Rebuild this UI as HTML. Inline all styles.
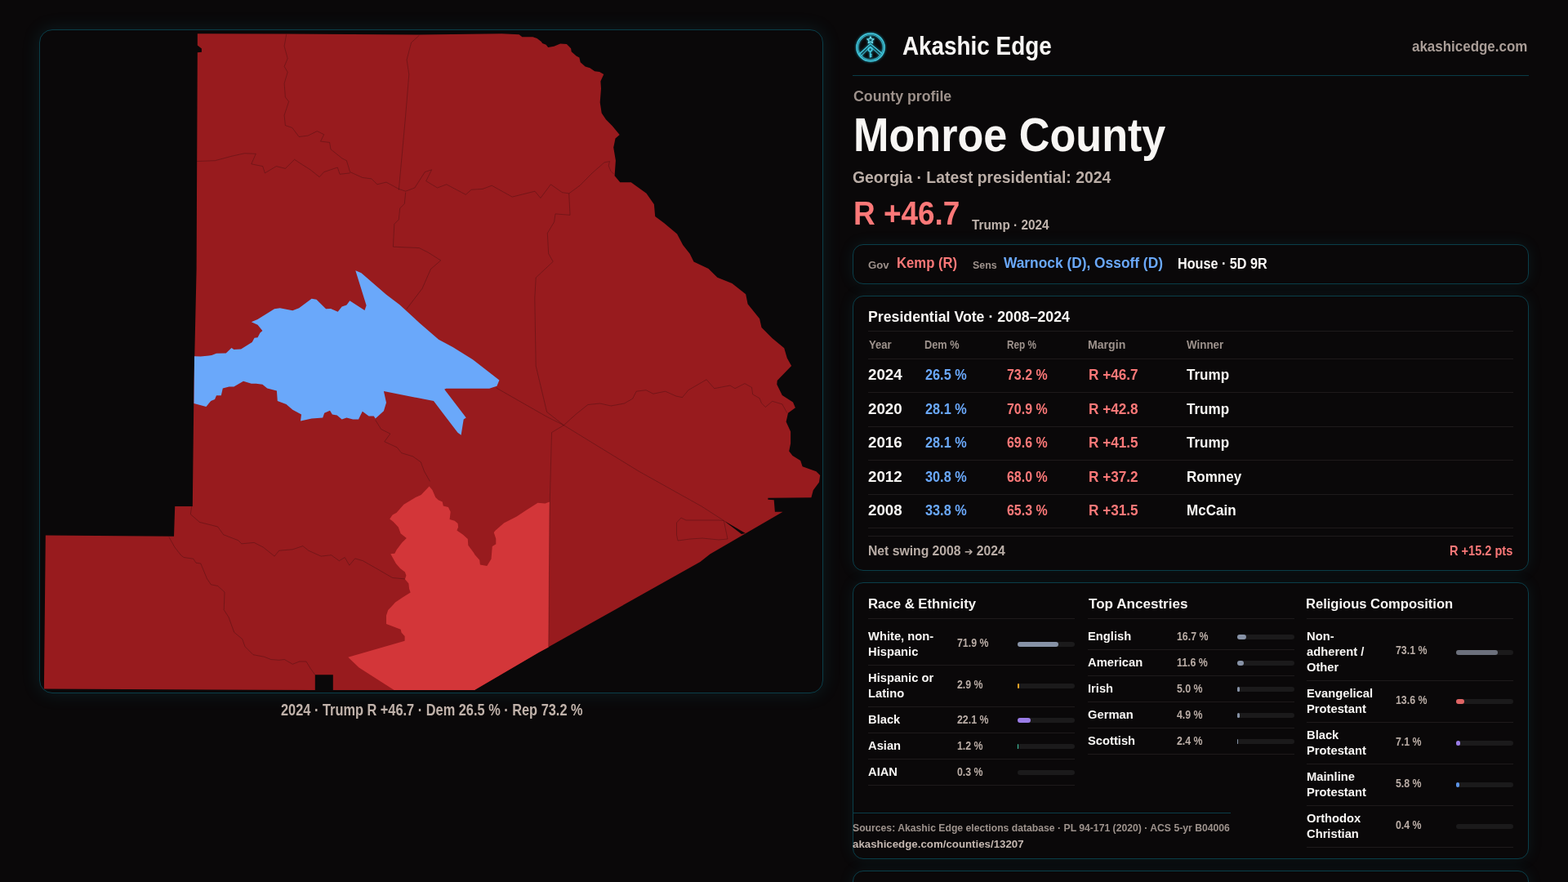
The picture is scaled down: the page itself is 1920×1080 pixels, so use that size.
<!DOCTYPE html>
<html><head><meta charset="utf-8"><title>Monroe County — Akashic Edge</title>
<style>
*{box-sizing:border-box;margin:0;padding:0}
html,body{width:1920px;height:1080px;overflow:hidden;background:#0a0809}
body{position:relative;font-family:"Liberation Sans",Arial,sans-serif;color:#f8f6f4}
.box{position:absolute;border:1px solid #0a3e49;background:#0a0809}
.mapcard{left:48px;top:36px;width:960px;height:813px;border-radius:16px;box-shadow:0 0 22px rgba(30,140,160,0.16)}
.card{left:1044px;width:828px;border-radius:13px;box-shadow:0 0 18px rgba(30,140,160,0.12)}
svg.map{position:absolute;left:0;top:0}
.logo{position:absolute;left:1046px;top:38px}
.hline{position:absolute;left:1044px;top:92px;width:828px;height:1px;background:#093c47}
.t{position:absolute;white-space:nowrap;transform-origin:0 0;line-height:normal}
.dl{line-height:19.0px;color:#f8f6f4}
.hr{position:absolute;height:1px;background:#1e1a1b}
.bar{position:absolute;width:70px;height:6px;border-radius:3px;background:#1b1a1b}
.bar i{position:absolute;left:0;top:0;height:6px;border-radius:3px}
.srcline{position:absolute;left:1044px;top:995px;width:463px;height:1px;background:#0a3e49}
</style></head><body>
<div class="box mapcard"></div>
<svg class="map" width="1010" height="850" viewBox="0 0 1010 850">
<polygon points="241.8,41.2 350.8,41.6 513.0,42.4 614.3,41.3 635.6,42.2 639.4,45.3 652.4,45.3 657.6,47.0 662.8,50.9 664.1,52.9 668.6,54.8 671.2,58.0 678.3,56.7 686.1,53.5 693.9,54.1 699.1,59.3 699.7,63.2 705.6,68.4 709.4,70.4 710.7,76.2 716.6,81.4 722.4,83.3 728.2,87.2 734.1,87.9 739.3,91.1 735.4,99.5 736.0,108.6 734.7,125.4 736.7,138.4 741.9,146.2 749.6,154.0 758.7,165.0 753.5,169.5 752.2,176.0 751.2,180.4 753.9,196.5 752.6,215.3 759.3,223.3 772.7,223.3 791.5,236.8 800.9,250.2 802.2,265.0 813.0,273.0 829.1,286.4 836.2,300.0 844.7,310.8 849.5,320.5 867.5,328.9 878.4,339.7 896.4,346.9 913.2,360.2 915.6,372.2 930.1,390.2 932.5,401.0 945.7,414.3 960.2,426.3 963.8,438.4 969.1,448.0 951.7,466.0 951.3,470.8 957.8,484.0 971.0,492.5 973.9,499.2 965.0,505.7 962.6,516.6 968.1,528.6 968.1,543.0 966.2,552.6 970.5,558.0 980.2,564.0 982.6,571.3 999.4,577.3 1004.2,582.0 1003.0,590.5 995.8,600.2 993.4,609.3 940.4,609.8 940.4,611.7 947.7,612.2 948.9,626.7 958.5,626.7 869.4,678.4 857.4,688.0 660.0,798.8 581.0,845.0 407.8,845.0 407.8,826.3 385.8,826.3 385.8,845.0 53.9,843.5 55.8,655.5 213.0,656.7 214.2,620.0 235.8,620.0 237.5,470.0 240.6,330.0 241.8,64.2 246.9,63.7 246.9,59.6 241.8,55.5" fill="#981b1e"/>
<polygon points="525.6,595.6 529.4,600.0 533.3,608.9 536.7,612.2 541.7,614.4 542.8,619.4 548.9,621.1 551.7,626.7 550.6,636.1 556.7,637.8 560.6,641.1 561.1,645.6 559.4,649.4 566.7,654.4 572.8,660.0 573.3,667.8 576.7,672.2 580.0,676.7 581.4,679.3 587.2,685.7 587.9,691.6 596.3,692.9 601.5,684.5 602.8,668.9 607.3,666.3 607.3,659.8 604.7,652.0 606.7,649.4 617.0,640.4 632.6,632.6 644.3,624.8 658.5,615.7 667.6,616.4 672.8,614.4 673.0,615.0 671.8,792.5 660.0,798.8 581.0,845.0 482.6,845.0 439.6,817.4 426.3,804.8 495.6,784.8 495.6,778.9 491.5,774.4 490.7,770.7 473.0,764.1 473.0,753.7 475.2,747.0 479.6,742.6 484.1,737.4 493.0,731.5 502.6,725.6 501.1,721.1 500.4,714.4 495.9,709.3 497.4,704.8 495.9,700.4 490.0,695.9 484.8,690.0 478.3,678.3 483.3,677.8 485.6,673.3 492.2,664.4 497.8,658.9 490.6,653.3 487.8,645.6 481.7,638.9 477.2,635.6 480.6,630.6 485.6,627.8 494.4,617.8 508.9,608.9 515.6,606.1" fill="#d33639"/>
<polygon points="238.0,436.3 245.6,436.6 259.2,435.1 265.0,432.8 276.7,432.4 283.5,426.0 286.4,427.9 295.1,427.5 303.9,422.1 308.7,419.1 311.6,413.7 315.5,413.3 318.5,407.5 321.4,405.0 315.5,397.8 307.8,394.3 315.5,391.0 336.0,378.3 342.8,377.3 358.3,380.3 366.1,377.3 381.6,365.7 387.5,366.7 399.1,378.3 405.0,377.9 413.7,381.8 418.6,375.4 424.4,373.5 428.3,368.2 446.5,380.1 448.6,374.0 435.3,331.2 442.4,334.3 473.0,360.7 489.2,373.0 513.7,395.4 537.1,415.7 554.4,424.9 578.9,440.2 611.4,465.6 608.4,472.7 599.2,475.8 546.3,475.8 544.2,476.8 570.7,511.4 567.7,513.5 564.6,532.8 560.5,529.8 531.0,491.1 469.9,478.9 473.0,493.1 469.9,503.3 459.7,512.5 457.7,509.4 451.6,509.5 443.8,503.7 439.0,513.4 432.2,513.4 424.4,511.5 418.6,513.4 412.7,508.6 406.9,507.6 404.0,502.7 397.2,505.7 395.2,511.5 381.6,512.5 368.0,515.4 369.0,507.6 358.3,501.8 350.5,495.0 339.8,491.1 338.9,478.4 327.2,475.5 321.4,470.7 313.6,469.7 307.8,469.7 298.0,466.8 286.4,473.6 280.5,473.6 272.8,475.5 270.8,484.3 265.0,484.3 263.0,489.1 258.2,491.1 252.4,497.9 237.5,494.0" fill="#6aa8fa"/>
<g fill="none" stroke="#3a0d0f" stroke-opacity="0.5" stroke-width="0.75">
<polyline points="350.8,41.6 348.1,56.4 352.2,71.7 348.1,81.4 352.2,88.3 348.1,102.2 349.4,118.9 353.6,124.4 348.1,141.1 349.4,153.6 357.8,156.4 366.1,167.5 377.2,166.1 388.3,160.6 396.7,164.7 392.5,173.1 403.6,174.4 405.0,182.8 418.9,193.9 424.4,196.7 428.6,210.6 443.9,217.5 455.0,218.9 461.9,225.8 473.0,223.1 488.3,231.4 496.7,234.2"/>
<polyline points="241.0,197.5 263.3,196.7 284.2,191.1 299.4,187.8 313.3,188.3 307.8,200.8 321.7,203.6 324.4,211.9 338.3,203.6 349.4,206.4 360.6,195.3 368.9,200.8 380.0,207.8 391.1,216.7 396.7,210.6 413.3,205.0 416.1,213.3 428.6,211.9"/>
<polyline points="513.3,43.3 503.6,52.2 498.1,73.1 500.8,91.1 496.7,141.1 488.3,232.8"/>
<polyline points="496.7,234.2 507.8,230.0 520.3,210.6 528.6,207.8 521.7,221.7 535.6,230.0 546.7,225.8 570.3,238.3 577.2,232.2 591.1,231.4 602.2,227.2 627.2,241.1 655.0,234.2 661.9,242.5 674.4,225.8 688.3,235.6 696.7,236.9 710.0,227.2 725.0,212.0 740.0,198.9 746.5,197.6 745.2,202.8 747.8,209.3 751.7,213.2"/>
<polyline points="496.7,235.6 495.3,249.4 489.7,255.0 488.3,268.9 482.8,274.4 481.4,302.2 513.3,303.6 524.4,309.2 539.7,318.9 527.4,329.6 517.0,353.3 497.8,378.5"/>
<polyline points="696.7,236.9 698.0,263.3 680.0,261.9 678.6,271.7 670.3,285.6 671.7,310.6 677.2,320.3 656.2,340.0 654.8,365.2 656.2,448.1 669.6,504.4 690.3,520.7"/>
<polyline points="607.4,474.8 669.6,510.3 690.3,520.7 782.1,577.0 859.1,620.0 886.3,637.5"/>
<polyline points="690.3,520.7 705.1,507.3 719.9,495.5 734.7,494.0 748.1,497.0 764.4,494.0 774.7,488.1 779.2,479.2 791.0,477.7 799.9,482.2 814.7,479.2 828.0,485.1 835.5,486.6 842.9,477.7 865.1,464.8 874.7,475.7 894.0,472.0 900.0,475.7 912.0,469.6 920.5,474.4 921.7,482.9 930.1,487.7 932.5,493.7 937.3,498.5 945.7,491.3 957.8,494.9 963.8,505.7"/>
<polyline points="690.3,520.7 675.5,529.6 673.1,620.0 671.8,792.5"/>
<polyline points="234.7,620.0 233.3,629.7 244.4,639.4 266.7,645.0 273.6,654.7 291.7,661.7 295.8,665.8 311.1,664.4 322.2,670.0 336.1,681.1 341.7,674.2 358.3,672.8 370.8,668.6 377.8,674.2 393.1,681.1 405.6,679.7 415.3,686.7 422.2,682.5 427.8,692.2 434.7,683.9 444.4,686.7 463.9,697.8 480.6,707.5 495.8,708.9"/>
<polyline points="206.9,657.5 213.9,670.0 221.7,680.0 225.0,682.5 236.7,684.2 240.0,689.2 245.8,690.0 253.3,708.3 258.3,715.8 266.7,717.5 275.0,725.0 274.2,746.7 280.0,755.8 286.7,774.2 296.7,782.5 300.0,791.7 310.0,801.7 323.3,804.2 331.7,807.5 341.7,808.3 348.3,807.5 358.3,813.3 366.7,810.0 375.0,810.0 380.0,818.3 385.8,826.3"/>
<polyline points="459.7,514.4 466.7,525.6 477.8,531.1 470.8,540.8 486.1,547.8 491.7,554.7 505.6,558.9 515.3,565.8 519.4,576.9 526.4,589.4"/>
<polyline points="828.5,640.0 834.0,634.0 840.0,637.0 880.0,637.0 886.3,637.5 891.0,660.0 880.0,661.0 860.0,659.0 845.0,660.0 830.0,662.0 828.5,655.0 828.5,640.0"/>
</g>
<polygon points="886.3,637.5 912.8,653.1 908,654" fill="#0a0809"/>
</svg>
<svg class="logo" width="40" height="40" viewBox="0 0 40 40">
<g fill="none" stroke="#45cbe0" stroke-width="1.3" style="filter:drop-shadow(0 0 1.5px #1fb4d0)">
<circle cx="20" cy="20" r="17" stroke-width="1.5"/>
<circle cx="20" cy="20" r="15.2" stroke-opacity="0.75" stroke-width="1.1"/>
<path d="M6 28.5 L19.8 15.5 L34 27.5"/>
<path d="M8.5 30.5 L19.8 19 L31.5 29.5" stroke-opacity="0.75" stroke-width="1.1"/>
<circle cx="19.6" cy="22.6" r="2.3" stroke-width="1.5"/>
<path d="M19.6 25 V32.6 M19.6 28.8 H21.6 M19.6 31 H21.6" stroke-width="1.5"/>
<path stroke="#6fdcec" stroke-width="1.2" stroke-linejoin="round" d="M19.9 6.8 L21.1 9.7 L24.1 9.9 L21.8 11.8 L22.6 14.7 L19.9 13.1 L17.2 14.7 L18 11.8 L15.7 9.9 L18.7 9.7Z"/>
</g>
</svg>
<div class="hline"></div>
<div class="box card" style="top:299px;height:49px"></div>
<div class="box card" style="top:362px;height:337px"></div>
<div class="box card" style="top:713px;height:339px"></div>
<div class="box card" style="top:1066px;height:40px"></div>
<div class="hr" style="left:1063px;top:405.0px;width:790px"></div><div class="hr" style="left:1063px;top:439.0px;width:790px"></div><div class="hr" style="left:1063px;top:480.4px;width:790px"></div><div class="hr" style="left:1063px;top:521.8px;width:790px"></div><div class="hr" style="left:1063px;top:563.2px;width:790px"></div><div class="hr" style="left:1063px;top:604.6px;width:790px"></div><div class="hr" style="left:1063px;top:646.0px;width:790px"></div><div class="hr" style="left:1063px;top:656.0px;width:790px"></div>
<div class="hr" style="left:1063px;top:757px;width:253px"></div><div class="hr" style="left:1063px;top:814.0px;width:253px"></div><div class="hr" style="left:1063px;top:865.0px;width:253px"></div><div class="hr" style="left:1063px;top:897.0px;width:253px"></div><div class="hr" style="left:1063px;top:929.0px;width:253px"></div><div class="hr" style="left:1063px;top:961.0px;width:253px"></div><div class="hr" style="left:1331.5px;top:757px;width:253px"></div><div class="hr" style="left:1331.5px;top:795.0px;width:253px"></div><div class="hr" style="left:1331.5px;top:827.0px;width:253px"></div><div class="hr" style="left:1331.5px;top:859.0px;width:253px"></div><div class="hr" style="left:1331.5px;top:891.0px;width:253px"></div><div class="hr" style="left:1331.5px;top:923.0px;width:253px"></div><div class="hr" style="left:1600px;top:757px;width:253px"></div><div class="hr" style="left:1600px;top:833.0px;width:253px"></div><div class="hr" style="left:1600px;top:884.0px;width:253px"></div><div class="hr" style="left:1600px;top:935.0px;width:253px"></div><div class="hr" style="left:1600px;top:986.0px;width:253px"></div><div class="hr" style="left:1600px;top:1037.0px;width:253px"></div>
<div class="bar" style="left:1246px;top:786.0px"><i style="width:50.3px;background:#8792a6"></i></div><div class="bar" style="left:1246px;top:837.0px"><i style="width:2.0px;background:#f0a424"></i></div><div class="bar" style="left:1246px;top:878.5px"><i style="width:15.5px;background:#9a7ce6"></i></div><div class="bar" style="left:1246px;top:910.5px"><i style="width:1.0px;background:#3ec6a4"></i></div><div class="bar" style="left:1246px;top:942.5px"><i style="width:0.0px;background:#8792a6"></i></div><div class="bar" style="left:1514.5px;top:776.5px"><i style="width:11.7px;background:#8792a6"></i></div><div class="bar" style="left:1514.5px;top:808.5px"><i style="width:8.1px;background:#8792a6"></i></div><div class="bar" style="left:1514.5px;top:840.5px"><i style="width:3.5px;background:#8792a6"></i></div><div class="bar" style="left:1514.5px;top:872.5px"><i style="width:3.4px;background:#8792a6"></i></div><div class="bar" style="left:1514.5px;top:904.5px"><i style="width:1.7px;background:#8792a6"></i></div><div class="bar" style="left:1783px;top:795.5px"><i style="width:51.2px;background:#6c707c"></i></div><div class="bar" style="left:1783px;top:856.0px"><i style="width:9.5px;background:#e06464"></i></div><div class="bar" style="left:1783px;top:907.0px"><i style="width:5.0px;background:#9a7ce6"></i></div><div class="bar" style="left:1783px;top:958.0px"><i style="width:4.1px;background:#5b93e6"></i></div><div class="bar" style="left:1783px;top:1009.0px"><i style="width:0.0px;background:#6c707c"></i></div>
<div class="srcline"></div>
<div class="t" style="left:1104.62px;top:39.22px;font-size:31.4px;font-weight:700;color:#f8f6f4;transform:scaleX(0.8873);">Akashic Edge</div>
<div class="t" style="left:1729.05px;top:46.32px;font-size:18.4px;font-weight:700;color:#a99d97;transform:scaleX(0.9217);">akashicedge.com</div>
<div class="t" style="left:1044.56px;top:107.28px;font-size:18.6px;font-weight:700;color:#9d918b;transform:scaleX(0.9539);">County profile</div>
<div class="t" style="left:1044.71px;top:130.66px;font-size:58.1px;font-weight:700;color:#f8f6f4;transform:scaleX(0.8976);">Monroe County</div>
<div class="t" style="left:1044.26px;top:205.44px;font-size:20.6px;font-weight:700;color:#bbaea7;transform:scaleX(0.9399);">Georgia · Latest presidential: 2024</div>
<div class="t" style="left:1045.02px;top:237.64px;font-size:41.4px;font-weight:700;color:#fc7878;transform:scaleX(0.8925);">R +46.7</div>
<div class="t" style="left:1189.60px;top:265.74px;font-size:16.4px;font-weight:700;color:#c0b4ad;transform:scaleX(0.9353);">Trump · 2024</div>
<div class="t" style="left:343.50px;top:859.15px;font-size:19.3px;font-weight:700;color:#c0b2aa;transform:scaleX(0.8484);">2024 · Trump R +46.7 · Dem 26.5 % · Rep 73.2 %</div>
<div class="t" style="left:1063.00px;top:317.26px;font-size:13.7px;font-weight:700;color:#9d918b;transform:scaleX(0.9630);">Gov</div>
<div class="t" style="left:1098.10px;top:311.30px;font-size:18.5px;font-weight:700;color:#fc7878;transform:scaleX(0.9012);">Kemp (R)</div>
<div class="t" style="left:1191.00px;top:317.26px;font-size:13.7px;font-weight:700;color:#9d918b;transform:scaleX(0.9062);">Sens</div>
<div class="t" style="left:1229.32px;top:311.30px;font-size:18.5px;font-weight:700;color:#6aa8fa;transform:scaleX(0.9374);">Warnock (D), Ossoff (D)</div>
<div class="t" style="left:1441.67px;top:312.30px;font-size:18.5px;font-weight:700;color:#f8f6f4;transform:scaleX(0.8746);">House · 5D 9R</div>
<div class="t" style="left:1062.54px;top:377.34px;font-size:18.3px;font-weight:700;color:#f8f6f4;transform:scaleX(0.9693);">Presidential Vote · 2008–2024</div>
<div class="t" style="left:1063.51px;top:413.68px;font-size:14.1px;font-weight:700;color:#9d928c;transform:scaleX(0.9290);">Year</div>
<div class="t" style="left:1132.08px;top:413.68px;font-size:14.1px;font-weight:700;color:#9d928c;transform:scaleX(0.9048);">Dem %</div>
<div class="t" style="left:1233.10px;top:413.68px;font-size:14.1px;font-weight:700;color:#9d928c;transform:scaleX(0.8342);">Rep %</div>
<div class="t" style="left:1332.43px;top:413.68px;font-size:14.1px;font-weight:700;color:#9d928c;transform:scaleX(1.0015);">Margin</div>
<div class="t" style="left:1453.49px;top:413.68px;font-size:14.1px;font-weight:700;color:#9d928c;transform:scaleX(0.9504);">Winner</div>
<div class="t" style="left:1062.55px;top:665.24px;font-size:16.3px;font-weight:700;color:#b9ada6;transform:scaleX(0.9654);">Net swing 2008 <span style="font-family:'DejaVu Sans',sans-serif;font-size:0.8em">➔</span> 2024</div>
<div class="t" style="left:1775.09px;top:665.22px;font-size:16.4px;font-weight:700;color:#fc7878;transform:scaleX(0.8879);">R +15.2 pts</div>
<div class="t" style="left:1062.52px;top:728.56px;font-size:17.2px;font-weight:700;color:#f8f6f4;transform:scaleX(0.9734);">Race &amp; Ethnicity</div>
<div class="t" style="left:1333.01px;top:728.56px;font-size:17.2px;font-weight:700;color:#f8f6f4;transform:scaleX(0.9936);">Top Ancestries</div>
<div class="t" style="left:1599.02px;top:728.56px;font-size:17.2px;font-weight:700;color:#f8f6f4;transform:scaleX(0.9625);">Religious Composition</div>
<div class="t" style="left:1044.00px;top:1006.98px;font-size:12.6px;font-weight:700;color:#9d928c;transform:scaleX(0.9685);">Sources: Akashic Edge elections database · PL 94-171 (2020) · ACS 5-yr B04006</div>
<div class="t" style="left:1044.00px;top:1026.28px;font-size:13.6px;font-weight:700;color:#c4b7b0;transform:scaleX(0.9768);">akashicedge.com/counties/13207</div>
<div class="t" style="left:1063.48px;top:449.40px;font-size:18.0px;font-weight:700;color:#f8f6f4;transform:scaleX(1.0406);">2024</div>
<div class="t" style="left:1063.48px;top:490.90px;font-size:18.0px;font-weight:700;color:#f8f6f4;transform:scaleX(1.0406);">2020</div>
<div class="t" style="left:1063.48px;top:532.40px;font-size:18.0px;font-weight:700;color:#f8f6f4;transform:scaleX(1.0406);">2016</div>
<div class="t" style="left:1063.48px;top:573.90px;font-size:18.0px;font-weight:700;color:#f8f6f4;transform:scaleX(1.0406);">2012</div>
<div class="t" style="left:1063.48px;top:615.40px;font-size:18.0px;font-weight:700;color:#f8f6f4;transform:scaleX(1.0406);">2008</div>
<div class="t" style="left:1133.00px;top:449.40px;font-size:18.0px;font-weight:700;color:#6aa8fa;transform:scaleX(0.9046);">26.5 %</div>
<div class="t" style="left:1133.00px;top:490.90px;font-size:18.0px;font-weight:700;color:#6aa8fa;transform:scaleX(0.9046);">28.1 %</div>
<div class="t" style="left:1133.00px;top:532.40px;font-size:18.0px;font-weight:700;color:#6aa8fa;transform:scaleX(0.9046);">28.1 %</div>
<div class="t" style="left:1133.00px;top:573.90px;font-size:18.0px;font-weight:700;color:#6aa8fa;transform:scaleX(0.9046);">30.8 %</div>
<div class="t" style="left:1133.00px;top:615.40px;font-size:18.0px;font-weight:700;color:#6aa8fa;transform:scaleX(0.9046);">33.8 %</div>
<div class="t" style="left:1233.05px;top:449.40px;font-size:18.0px;font-weight:700;color:#fc7878;transform:scaleX(0.8844);">73.2 %</div>
<div class="t" style="left:1233.05px;top:490.90px;font-size:18.0px;font-weight:700;color:#fc7878;transform:scaleX(0.8844);">70.9 %</div>
<div class="t" style="left:1233.05px;top:532.40px;font-size:18.0px;font-weight:700;color:#fc7878;transform:scaleX(0.8844);">69.6 %</div>
<div class="t" style="left:1233.05px;top:573.90px;font-size:18.0px;font-weight:700;color:#fc7878;transform:scaleX(0.8844);">68.0 %</div>
<div class="t" style="left:1233.05px;top:615.40px;font-size:18.0px;font-weight:700;color:#fc7878;transform:scaleX(0.8844);">65.3 %</div>
<div class="t" style="left:1332.52px;top:449.40px;font-size:18.0px;font-weight:700;color:#fc7878;transform:scaleX(0.9527);">R +46.7</div>
<div class="t" style="left:1332.52px;top:490.90px;font-size:18.0px;font-weight:700;color:#fc7878;transform:scaleX(0.9527);">R +42.8</div>
<div class="t" style="left:1332.52px;top:532.40px;font-size:18.0px;font-weight:700;color:#fc7878;transform:scaleX(0.9527);">R +41.5</div>
<div class="t" style="left:1332.52px;top:573.90px;font-size:18.0px;font-weight:700;color:#fc7878;transform:scaleX(0.9527);">R +37.2</div>
<div class="t" style="left:1332.52px;top:615.40px;font-size:18.0px;font-weight:700;color:#fc7878;transform:scaleX(0.9527);">R +31.5</div>
<div class="t" style="left:1453.44px;top:449.40px;font-size:18.0px;font-weight:700;color:#f8f6f4;transform:scaleX(0.9463);">Trump</div>
<div class="t" style="left:1453.44px;top:490.90px;font-size:18.0px;font-weight:700;color:#f8f6f4;transform:scaleX(0.9463);">Trump</div>
<div class="t" style="left:1453.44px;top:532.40px;font-size:18.0px;font-weight:700;color:#f8f6f4;transform:scaleX(0.9463);">Trump</div>
<div class="t" style="left:1453.44px;top:573.90px;font-size:18.0px;font-weight:700;color:#f8f6f4;transform:scaleX(0.9463);">Romney</div>
<div class="t" style="left:1453.44px;top:615.40px;font-size:18.0px;font-weight:700;color:#f8f6f4;transform:scaleX(0.9463);">McCain</div>
<div class="t dl" style="left:1063.49px;top:769.40px;font-size:15.5px;font-weight:700;transform:scaleX(0.9504)">White, non-<br>Hispanic</div>
<div class="t" style="left:1172.49px;top:777.98px;font-size:15.1px;font-weight:700;color:#b9aca5;transform:scaleX(0.8185)">71.9 %</div>
<div class="t dl" style="left:1063.49px;top:820.40px;font-size:15.5px;font-weight:700;transform:scaleX(0.9504)">Hispanic or<br>Latino</div>
<div class="t" style="left:1172.49px;top:828.98px;font-size:15.1px;font-weight:700;color:#b9aca5;transform:scaleX(0.8185)">2.9 %</div>
<div class="t dl" style="left:1063.49px;top:871.40px;font-size:15.5px;font-weight:700;transform:scaleX(0.9504)">Black</div>
<div class="t" style="left:1172.49px;top:872.38px;font-size:15.1px;font-weight:700;color:#b9aca5;transform:scaleX(0.8185)">22.1 %</div>
<div class="t dl" style="left:1063.49px;top:903.40px;font-size:15.5px;font-weight:700;transform:scaleX(0.9504)">Asian</div>
<div class="t" style="left:1172.49px;top:904.38px;font-size:15.1px;font-weight:700;color:#b9aca5;transform:scaleX(0.8185)">1.2 %</div>
<div class="t dl" style="left:1063.49px;top:935.40px;font-size:15.5px;font-weight:700;transform:scaleX(0.9504)">AIAN</div>
<div class="t" style="left:1172.49px;top:936.38px;font-size:15.1px;font-weight:700;color:#b9aca5;transform:scaleX(0.8185)">0.3 %</div>
<div class="t dl" style="left:1331.99px;top:769.40px;font-size:15.5px;font-weight:700;transform:scaleX(0.9504)">English</div>
<div class="t" style="left:1440.99px;top:770.38px;font-size:15.1px;font-weight:700;color:#b9aca5;transform:scaleX(0.8185)">16.7 %</div>
<div class="t dl" style="left:1331.99px;top:801.40px;font-size:15.5px;font-weight:700;transform:scaleX(0.9504)">American</div>
<div class="t" style="left:1440.99px;top:802.38px;font-size:15.1px;font-weight:700;color:#b9aca5;transform:scaleX(0.8185)">11.6 %</div>
<div class="t dl" style="left:1331.99px;top:833.40px;font-size:15.5px;font-weight:700;transform:scaleX(0.9504)">Irish</div>
<div class="t" style="left:1440.99px;top:834.38px;font-size:15.1px;font-weight:700;color:#b9aca5;transform:scaleX(0.8185)">5.0 %</div>
<div class="t dl" style="left:1331.99px;top:865.40px;font-size:15.5px;font-weight:700;transform:scaleX(0.9504)">German</div>
<div class="t" style="left:1440.99px;top:866.38px;font-size:15.1px;font-weight:700;color:#b9aca5;transform:scaleX(0.8185)">4.9 %</div>
<div class="t dl" style="left:1331.99px;top:897.40px;font-size:15.5px;font-weight:700;transform:scaleX(0.9504)">Scottish</div>
<div class="t" style="left:1440.99px;top:898.38px;font-size:15.1px;font-weight:700;color:#b9aca5;transform:scaleX(0.8185)">2.4 %</div>
<div class="t dl" style="left:1600.49px;top:769.40px;font-size:15.5px;font-weight:700;transform:scaleX(0.9504)">Non-<br>adherent /<br>Other</div>
<div class="t" style="left:1709.49px;top:787.48px;font-size:15.1px;font-weight:700;color:#b9aca5;transform:scaleX(0.8185)">73.1 %</div>
<div class="t dl" style="left:1600.49px;top:839.40px;font-size:15.5px;font-weight:700;transform:scaleX(0.9504)">Evangelical<br>Protestant</div>
<div class="t" style="left:1709.49px;top:847.98px;font-size:15.1px;font-weight:700;color:#b9aca5;transform:scaleX(0.8185)">13.6 %</div>
<div class="t dl" style="left:1600.49px;top:890.40px;font-size:15.5px;font-weight:700;transform:scaleX(0.9504)">Black<br>Protestant</div>
<div class="t" style="left:1709.49px;top:898.98px;font-size:15.1px;font-weight:700;color:#b9aca5;transform:scaleX(0.8185)">7.1 %</div>
<div class="t dl" style="left:1600.49px;top:941.40px;font-size:15.5px;font-weight:700;transform:scaleX(0.9504)">Mainline<br>Protestant</div>
<div class="t" style="left:1709.49px;top:949.98px;font-size:15.1px;font-weight:700;color:#b9aca5;transform:scaleX(0.8185)">5.8 %</div>
<div class="t dl" style="left:1600.49px;top:992.40px;font-size:15.5px;font-weight:700;transform:scaleX(0.9504)">Orthodox<br>Christian</div>
<div class="t" style="left:1709.49px;top:1000.98px;font-size:15.1px;font-weight:700;color:#b9aca5;transform:scaleX(0.8185)">0.4 %</div>
</body></html>
